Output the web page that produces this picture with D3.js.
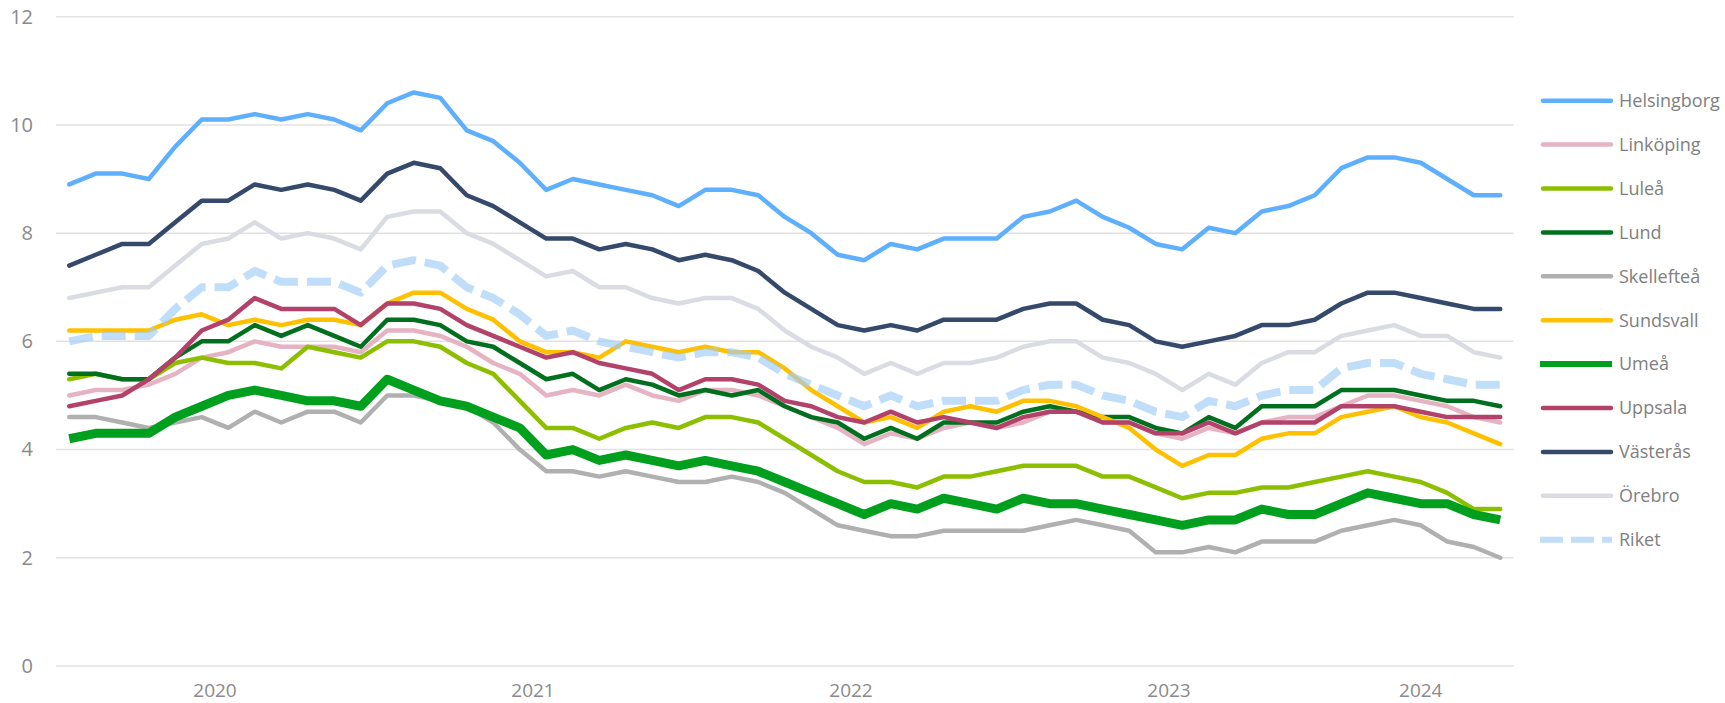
<!DOCTYPE html>
<html>
<head>
<meta charset="utf-8">
<script src="https://cdn.jsdelivr.net/npm/d3@7"></script>
<style>
  body { margin: 0; background: #fff; }
  svg { display: block; font-family: "Open Sans", sans-serif; }
</style>
</head>
<body>
<svg id="chart" width="1725" height="703"></svg>
<script>
// monthly categories, Jan 2020 - Jul 2024
var months = [
  "2020-01","2020-02","2020-03","2020-04","2020-05","2020-06","2020-07","2020-08","2020-09","2020-10","2020-11","2020-12",
  "2021-01","2021-02","2021-03","2021-04","2021-05","2021-06","2021-07","2021-08","2021-09","2021-10","2021-11","2021-12",
  "2022-01","2022-02","2022-03","2022-04","2022-05","2022-06","2022-07","2022-08","2022-09","2022-10","2022-11","2022-12",
  "2023-01","2023-02","2023-03","2023-04","2023-05","2023-06","2023-07","2023-08","2023-09","2023-10","2023-11","2023-12",
  "2024-01","2024-02","2024-03","2024-04","2024-05","2024-06","2024-07"
];
var years = ["2020", "2021", "2022", "2023", "2024"];
var yTicks = [0, 2, 4, 6, 8, 10, 12];

var helsingborg = [8.9,9.1,9.1,9.0,9.6,10.1,10.1,10.2,10.1,10.2,10.1,9.9,10.4,10.6,10.5,9.9,9.7,9.3,8.8,9.0,8.9,8.8,8.7,8.5,8.8,8.8,8.7,8.3,8.0,7.6,7.5,7.8,7.7,7.9,7.9,7.9,8.3,8.4,8.6,8.3,8.1,7.8,7.7,8.1,8.0,8.4,8.5,8.7,9.2,9.4,9.4,9.3,9.0,8.7,8.7];
var linkoping   = [5.0,5.1,5.1,5.2,5.4,5.7,5.8,6.0,5.9,5.9,5.9,5.8,6.2,6.2,6.1,5.9,5.6,5.4,5.0,5.1,5.0,5.2,5.0,4.9,5.1,5.1,5.0,4.8,4.6,4.4,4.1,4.3,4.2,4.4,4.5,4.4,4.5,4.7,4.7,4.5,4.5,4.3,4.2,4.4,4.3,4.5,4.6,4.6,4.8,5.0,5.0,4.9,4.8,4.6,4.5];
var lulea       = [5.3,5.4,5.3,5.3,5.6,5.7,5.6,5.6,5.5,5.9,5.8,5.7,6.0,6.0,5.9,5.6,5.4,4.9,4.4,4.4,4.2,4.4,4.5,4.4,4.6,4.6,4.5,4.2,3.9,3.6,3.4,3.4,3.3,3.5,3.5,3.6,3.7,3.7,3.7,3.5,3.5,3.3,3.1,3.2,3.2,3.3,3.3,3.4,3.5,3.6,3.5,3.4,3.2,2.9,2.9];
var lund        = [5.4,5.4,5.3,5.3,5.7,6.0,6.0,6.3,6.1,6.3,6.1,5.9,6.4,6.4,6.3,6.0,5.9,5.6,5.3,5.4,5.1,5.3,5.2,5.0,5.1,5.0,5.1,4.8,4.6,4.5,4.2,4.4,4.2,4.5,4.5,4.5,4.7,4.8,4.7,4.6,4.6,4.4,4.3,4.6,4.4,4.8,4.8,4.8,5.1,5.1,5.1,5.0,4.9,4.9,4.8];
var skelleftea  = [4.6,4.6,4.5,4.4,4.5,4.6,4.4,4.7,4.5,4.7,4.7,4.5,5.0,5.0,4.9,4.8,4.5,4.0,3.6,3.6,3.5,3.6,3.5,3.4,3.4,3.5,3.4,3.2,2.9,2.6,2.5,2.4,2.4,2.5,2.5,2.5,2.5,2.6,2.7,2.6,2.5,2.1,2.1,2.2,2.1,2.3,2.3,2.3,2.5,2.6,2.7,2.6,2.3,2.2,2.0];
var sundsvall   = [6.2,6.2,6.2,6.2,6.4,6.5,6.3,6.4,6.3,6.4,6.4,6.3,6.7,6.9,6.9,6.6,6.4,6.0,5.8,5.8,5.7,6.0,5.9,5.8,5.9,5.8,5.8,5.5,5.1,4.8,4.5,4.6,4.4,4.7,4.8,4.7,4.9,4.9,4.8,4.6,4.4,4.0,3.7,3.9,3.9,4.2,4.3,4.3,4.6,4.7,4.8,4.6,4.5,4.3,4.1];
var umea        = [4.2,4.3,4.3,4.3,4.6,4.8,5.0,5.1,5.0,4.9,4.9,4.8,5.3,5.1,4.9,4.8,4.6,4.4,3.9,4.0,3.8,3.9,3.8,3.7,3.8,3.7,3.6,3.4,3.2,3.0,2.8,3.0,2.9,3.1,3.0,2.9,3.1,3.0,3.0,2.9,2.8,2.7,2.6,2.7,2.7,2.9,2.8,2.8,3.0,3.2,3.1,3.0,3.0,2.8,2.7];
var uppsala     = [4.8,4.9,5.0,5.3,5.7,6.2,6.4,6.8,6.6,6.6,6.6,6.3,6.7,6.7,6.6,6.3,6.1,5.9,5.7,5.8,5.6,5.5,5.4,5.1,5.3,5.3,5.2,4.9,4.8,4.6,4.5,4.7,4.5,4.6,4.5,4.4,4.6,4.7,4.7,4.5,4.5,4.3,4.3,4.5,4.3,4.5,4.5,4.5,4.8,4.8,4.8,4.7,4.6,4.6,4.6];
var vasteras    = [7.4,7.6,7.8,7.8,8.2,8.6,8.6,8.9,8.8,8.9,8.8,8.6,9.1,9.3,9.2,8.7,8.5,8.2,7.9,7.9,7.7,7.8,7.7,7.5,7.6,7.5,7.3,6.9,6.6,6.3,6.2,6.3,6.2,6.4,6.4,6.4,6.6,6.7,6.7,6.4,6.3,6.0,5.9,6.0,6.1,6.3,6.3,6.4,6.7,6.9,6.9,6.8,6.7,6.6,6.6];
var orebro      = [6.8,6.9,7.0,7.0,7.4,7.8,7.9,8.2,7.9,8.0,7.9,7.7,8.3,8.4,8.4,8.0,7.8,7.5,7.2,7.3,7.0,7.0,6.8,6.7,6.8,6.8,6.6,6.2,5.9,5.7,5.4,5.6,5.4,5.6,5.6,5.7,5.9,6.0,6.0,5.7,5.6,5.4,5.1,5.4,5.2,5.6,5.8,5.8,6.1,6.2,6.3,6.1,6.1,5.8,5.7];
var riket       = [6.0,6.1,6.1,6.1,6.6,7.0,7.0,7.3,7.1,7.1,7.1,6.9,7.4,7.5,7.4,7.0,6.8,6.5,6.1,6.2,6.0,5.9,5.8,5.7,5.8,5.8,5.7,5.4,5.2,5.0,4.8,5.0,4.8,4.9,4.9,4.9,5.1,5.2,5.2,5.0,4.9,4.7,4.6,4.9,4.8,5.0,5.1,5.1,5.5,5.6,5.6,5.4,5.3,5.2,5.2];

var names = ["Helsingborg","Linköping","Luleå","Lund","Skellefteå","Sundsvall","Umeå","Uppsala","Västerås","Örebro","Riket"];
var values = [helsingborg, linkoping, lulea, lund, skelleftea, sundsvall, umea, uppsala, vasteras, orebro, riket];

// line styles, same order as names
var styles = [
  { color: "#5fafff", width: 4.5 },
  { color: "#e6b3c3", width: 4.5 },
  { color: "#8cbf00", width: 4.5 },
  { color: "#00701f", width: 4.5 },
  { color: "#b0b0b0", width: 4.5 },
  { color: "#ffc000", width: 4.5 },
  { color: "#00a01e", width: 9, cap: "butt" },
  { color: "#b3426a", width: 4.5 },
  { color: "#35496b", width: 4.5 },
  { color: "#d9dce3", width: 4.5 },
  { color: "#9eccf7", width: 8, cap: "butt", dash: "24,9", opacity: 0.65 }
];

var svg = d3.select("#chart");
var plotLeft = 56, plotRight = 1513.5, plotTop = 16.7, plotBottom = 666;

var x = d3.scalePoint().domain(months).range([plotLeft, plotRight]).padding(0.5);
var y = d3.scaleLinear().domain([0, 12]).range([plotBottom, plotTop]);

// gridlines
svg.append("g")
  .selectAll("line")
  .data(yTicks)
  .enter().append("line")
    .attr("x1", plotLeft).attr("x2", plotRight)
    .attr("y1", function(d) { return y(d); })
    .attr("y2", function(d) { return y(d); })
    .attr("stroke", "#e2e2e2")
    .attr("stroke-width", 1.5);

// y axis labels
var yAxis = d3.axisLeft(y).tickValues(yTicks).tickSize(0).tickPadding(0);
svg.append("g")
  .attr("transform", "translate(33,0)")
  .call(yAxis)
  .call(function(g) { g.select(".domain").remove(); })
  .selectAll("text")
    .attr("fill", "#8a8a8a")
    .style("font-size", "20px")
    .style("font-family", "Open Sans");

// year labels centred under each year's months
svg.append("g")
  .selectAll("text")
  .data(years)
  .enter().append("text")
    .attr("x", function(yr) {
      var ms = months.filter(function(m) { return m.slice(0, 4) === yr; });
      return (x(ms[0]) + x(ms[ms.length - 1])) / 2;
    })
    .attr("y", 697)
    .attr("text-anchor", "middle")
    .attr("fill", "#8a8a8a")
    .style("font-size", "19px")
    .text(function(d) { return d; });

var line = d3.line()
  .x(function(d, i) { return x(months[i]); })
  .y(function(d) { return y(d); });

svg.append("g")
  .selectAll("path")
  .data(values)
  .enter().append("path")
    .attr("d", line)
    .attr("fill", "none")
    .attr("stroke", function(d, i) { return styles[i].color; })
    .attr("stroke-width", function(d, i) { return styles[i].width; })
    .attr("stroke-linecap", function(d, i) { return styles[i].cap || "round"; })
    .attr("stroke-linejoin", "round")
    .attr("stroke-dasharray", function(d, i) { return styles[i].dash || null; })
    .attr("stroke-opacity", function(d, i) { return styles[i].opacity || 1; });

// legend
var legend = svg.append("g")
  .selectAll("g")
  .data(names)
  .enter().append("g")
    .attr("transform", function(d, i) { return "translate(0," + (100.7 + i * 43.9) + ")"; });

legend.append("line")
  .attr("x1", function(d, i) { return styles[i].cap ? 1540 : 1543; })
  .attr("x2", function(d, i) { return styles[i].cap ? 1612 : 1611; })
  .attr("stroke", function(d, i) { return styles[i].color; })
  .attr("stroke-width", function(d, i) { return styles[i].cap ? 6 : 4.5; })
  .attr("stroke-linecap", function(d, i) { return styles[i].cap || "round"; })
  .attr("stroke-dasharray", function(d, i) { return styles[i].dash ? "23,8" : null; })
  .attr("stroke-opacity", function(d, i) { return styles[i].opacity || 1; });

legend.append("text")
  .attr("x", 1619)
  .attr("dy", "0.35em")
  .attr("fill", "#808080")
  .style("font-size", "18px")
  .text(function(d) { return d; });
</script>
</body>
</html>
